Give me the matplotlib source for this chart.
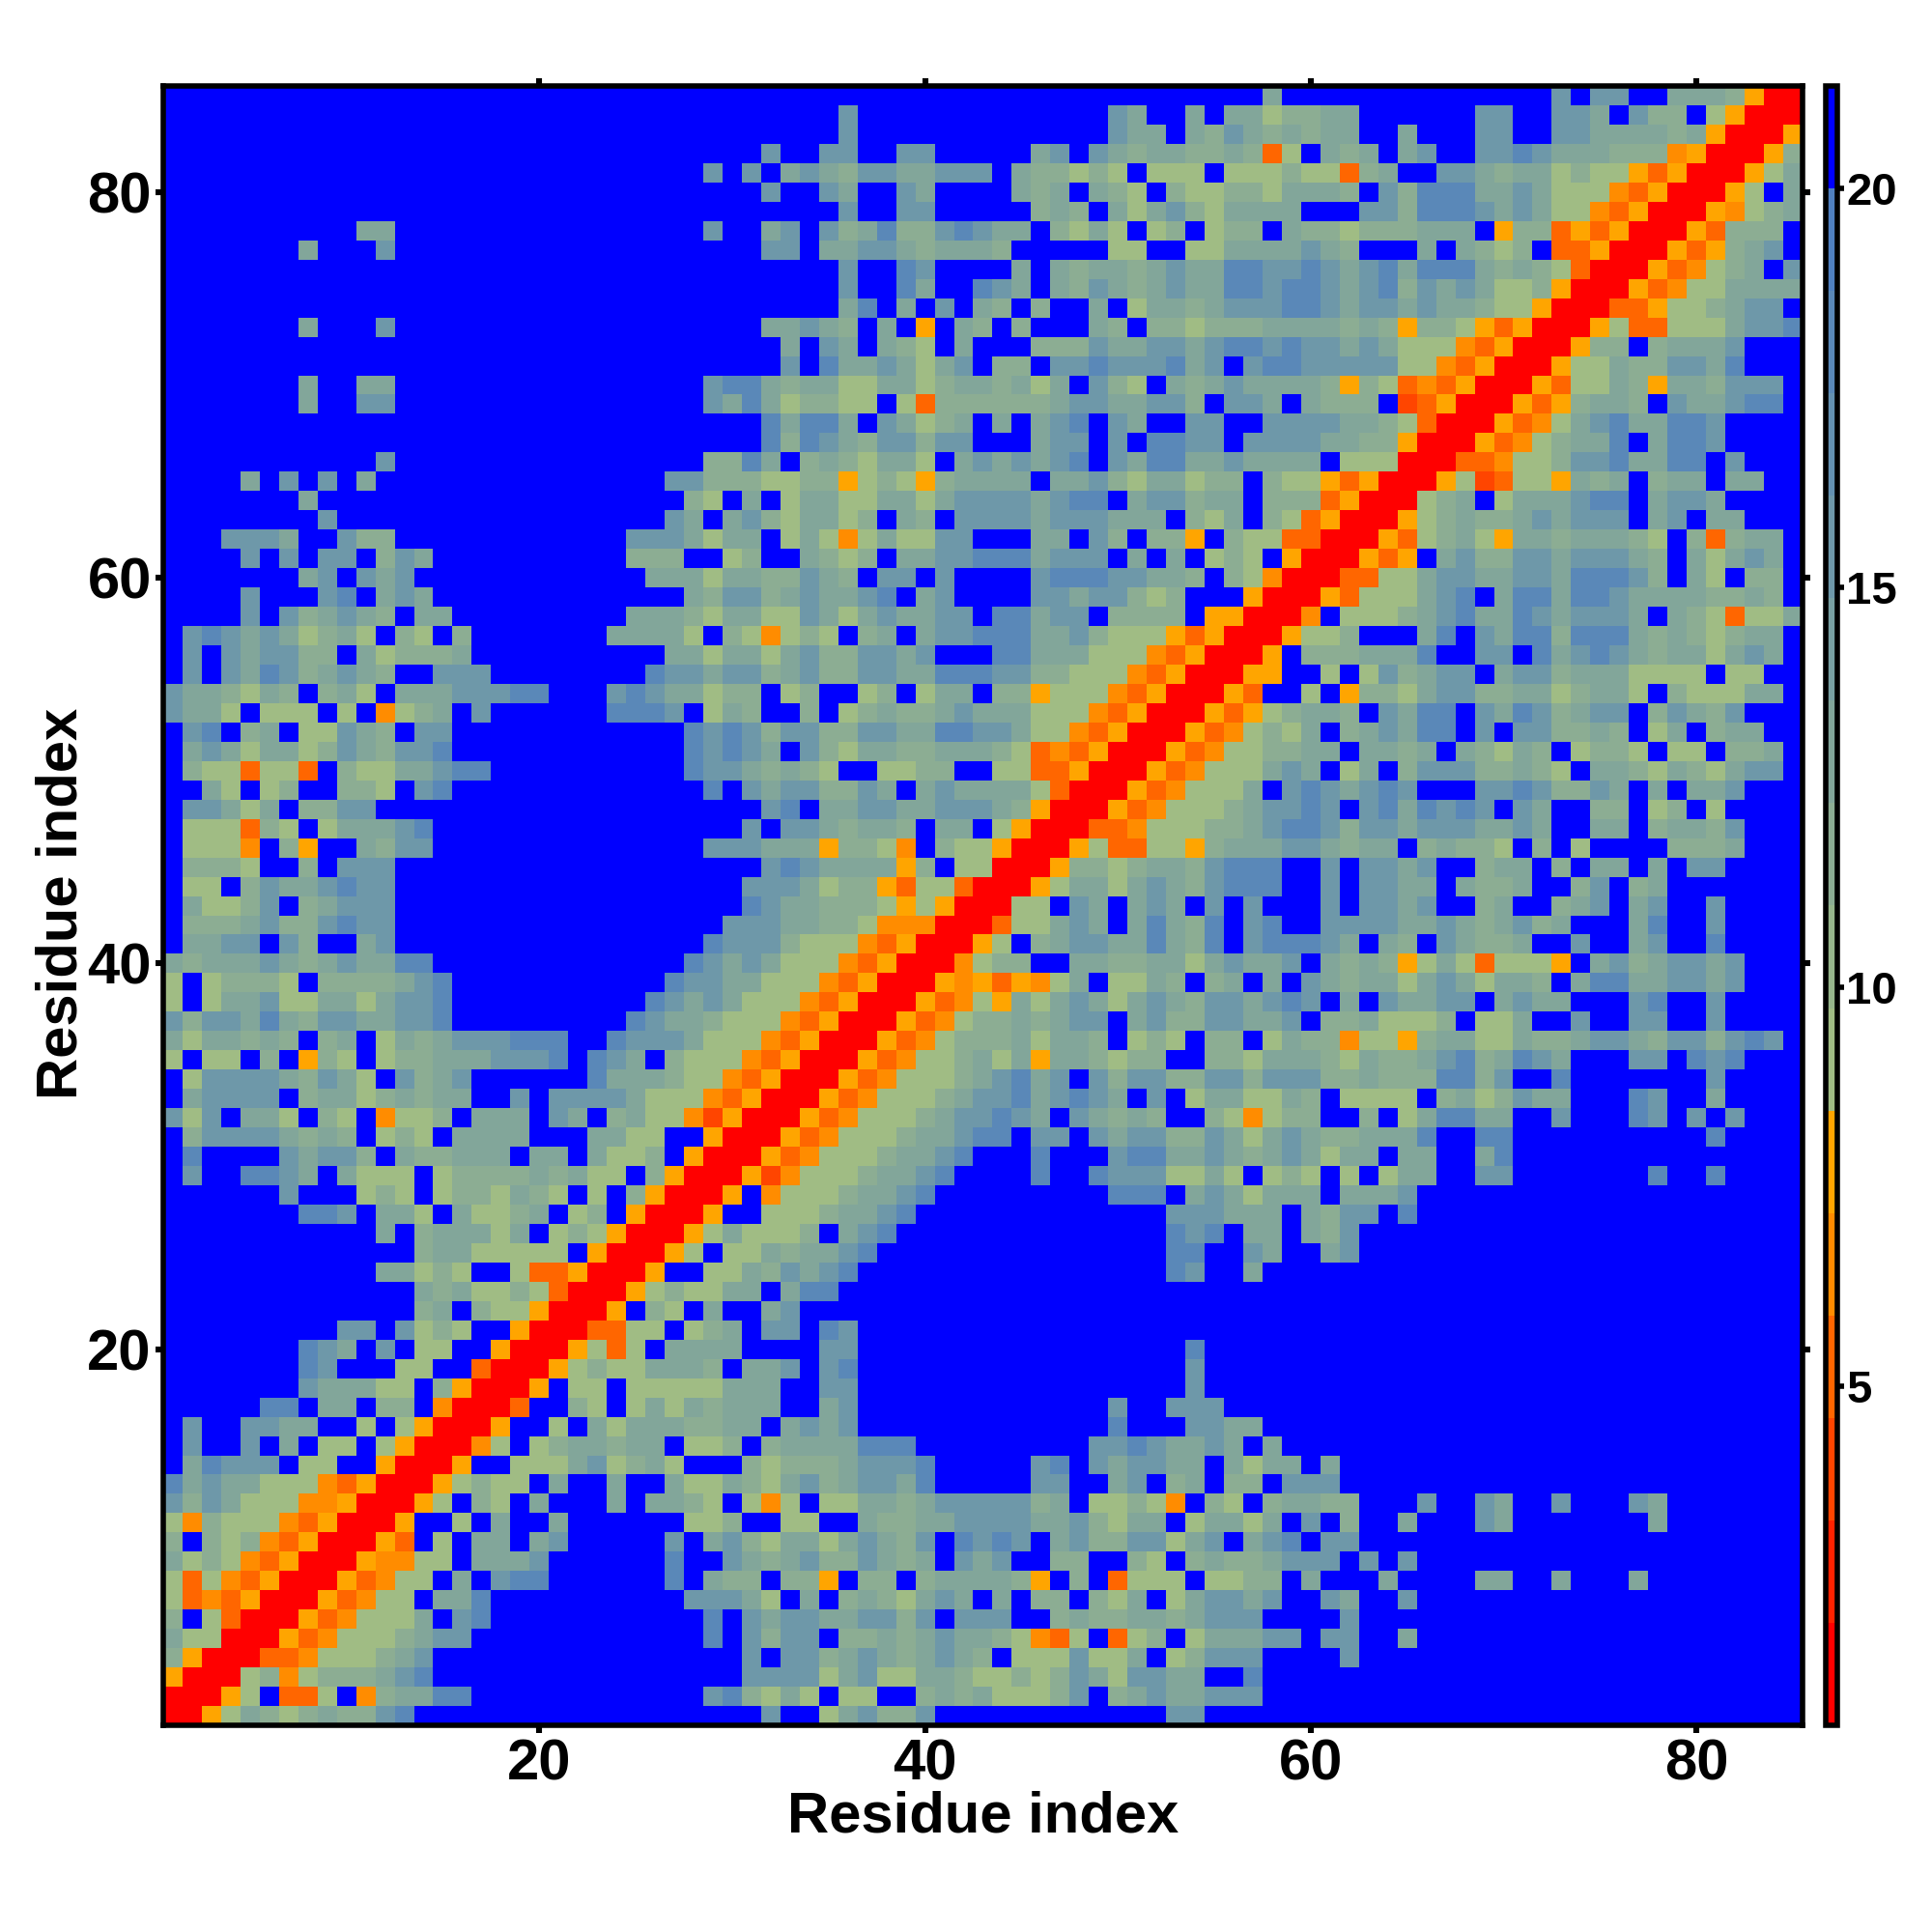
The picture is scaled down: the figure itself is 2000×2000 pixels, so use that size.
import numpy as np
import matplotlib
matplotlib.use('Agg')
import matplotlib.pyplot as plt
from matplotlib.colors import ListedColormap

plt.rcParams['font.family'] = ['Liberation Sans', 'DejaVu Sans']
plt.rcParams['font.weight'] = 'bold'

# Distance map read cell by cell, top row (residue 85) first.
# r t o m y = red to orange bins, a b c d e = sage to steel blue bins, . = blue (far)
# Split in three blocks: residues 1-28, 29-57, 58-85
left_block = [
    "", "", "", "", "", "", "",
    "..........cc",
    ".......c...d",
    "", "", "",
    ".......c...d",
    "", "",
    ".......c..cc",
    ".......c..dd",
    "", "",
    "...........d",
    "....c.d.d.c" + "." * 15 + "dd",
    ".......c" + "." * 19 + "b",
    "........d" + "." * 17 + "dc",
    "...dddc..dbb............dddc",
    "....d.d.dd.bdc..........bbb.",
    ".......cd.dcd............ccc",
    "....d...de.cdc" + "." * 13 + "c",
    "....d.dbcdcb.cc.........cccb",
    ".dedcdcabca.ba.b.......cccca",
    ".d.dcddbb.cabbbc..........cc",
    ".d.dcedbcdcb..ddd........edd",
    "dccbacb.bca.cccdddee...dedcc",
    "dcca.aaa.a.mabc.d......eeed.",
    ".de.bc.aadcb.dd" + "." * 12 + "e",
    ".cdcaccabdcbdde" + "." * 12 + "e",
    ".baaoaao.baaccdee" + "." * 10 + "e",
    "..ca.ab..bba.de",
    ".ddcac.bbdd",
    ".aaaoba.acccde",
    ".aaam.by..cbdd",
    ".bbba..b.ddd",
    ".aa.bdccdedd",
    ".caabd.bcddd",
    ".bbbcdbbdedd",
    ".ccdd.db..cd",
    "cbcccdcbcdccee" + "." * 13 + "e",
    "a.abbba.bbbbcde" + "." * 11 + "ed",
    "a.accdaaccacdde" + "." * 10 + "edc",
    "dbddcecbddccdde" + "." * 9 + "edcc",
    "caccbcb.bc.acbcdddeee..edddc",
    "a.aa.b.yba.abbcccddde.edc.ba",
    ".addddcbdca.dbcd......ecccba",
    ".cdddd.bccabcbcc..d.ddddcaaa",
    "dad.cca.ba.maab.ccc.dc.bcaam",
    ".bddddcbcb.aba.cccc...ccaa..",
    ".e....dcddb.cbbccc.cc.caab.y",
    ".d..eedc.caaa.abbbbcbcaa.byr",
    "......d...aba.abbacba.a.byrr",
    ".......eed.cca.caabc.ab.yrrr",
    "...........c.bcccac.abayrrry",
    ".............bccaaaaa.yrrrya",
    "...........ccaba..aooyrrry..",
    ".............cbcaabaorrryaba",
    ".............bc.baayrrry.ba.",
    ".........dd.daba..yrrrooaa.a",
    ".......edc.d.aa..yrrryaoa.cc",
    ".......ed...aa..orrryabaaccc",
    ".......dcccaa.byrrry.aa.aaaa",
    ".....ee.cc.bb.mrrro..ba.acac",
    ".d..ddcc..a.ayrrry..a.cacccb",
    ".d..d.c.aa.ayrrrma.abccbcc.a",
    ".ceddd.aa..yrrry..aaacdabca.",
    "ecdccaaamoyrrryabaa.c..c..ca",
    "dbdcaaammyrrrya.ba.c...c.ccb",
    "ambaaamoyrrry..a.c..c......a",
    "b.babmoyrrryo.a.cc.cd.....d.",
    "cabamoyrrrymmaa.cccd......e.",
    "aoamoyrrryomaa.c.dee......e.",
    "aomoyrrryomaa.cce..........d",
    "b.aorrryomaaac.de",
    "caarrryomaaabcdd",
    "byrrroomaaabcd",
    "yrrrabmabbbcde",
    "rrrya.ooa.mbccee",
    "rryacbabcbbde",
]

middle_block = [
    "." * 29,
    ".......d.............dc..c.cc",
    ".......d.............dcc.cbdc",
    "...d..dd..dd.....cd.dcbccbbcb",
    "d.d.cdcbddccddd.cbbaba.aaa.aa",
    "...d..dc..dc....cbc.cba.baabb",
    ".......d..dd.....bcb.cacdbacc",
    "d..cd.dbcebbdedcc.baca.ab.abb",
    "...dd.ccddcbcccb.....aa..aacc",
    ".......d..ed....c.cbccbcdccee",
    ".......d..ec..edc.cbdcbcdccee",
    ".......ce.c.d.cb.b..c.accbcdd",
    "...ccdcb.c.y.cb.b...cb.bbabbb",
    "....c.dc.cba.c...bbbdccddcdee",
    "....d.eccdcacd.bb.ddedddecd.d",
    "deecbccaaccabccbcac.dba.cbcdc",
    "dcecabbaa.aobbbbbbcddccddb.dd",
    "...eceec.dcabc.c.cde.dc..dd..",
    "...ebedcbddbdd...cdd.d.eedd.d",
    "bbec.bcbacca.cdcdcde.dceeccdc",
    "bbbaabbyabaybcccc.ccdbaccabb.",
    "a.c.accaaccacddddcdee.cddbcc.",
    ".cdbaccab.cb.ddddcdddccc.bac.",
    "acc.acamacaadd...cc.db.bby.ba",
    ".ab..cbab.ccddeeecddd.c.c.aba",
    "accbbdcb.dd.d....deeeddccb.ba",
    "bddbcdccde.cd....ddcddbab...y",
    "accaadcacdccdd.eecdd.bbbb.yyr",
    ".bamaba.bc.cddeeeccdbaaayoyrr",
    "accacdbbddcd...eecccaaamoyrrr",
    "cddbcdbbddcceeeddbbaaamoyrrry",
    "abb.ab..ab.acc.bbyaaamoyrrryo",
    "acb..b.abcbbcdcccaaamoyrrryoy",
    "dedbddbbddcceeddcaamoyrrryoma",
    "dedc.dbaccbbcccbaomoyrrryomaa",
    "ddcbcba..aabb..aaooyrrryomaaa",
    "e.dcddbbdc.cdccccaorrryomaaac",
    "...de.ccddccdddcbyrrryomaaabc",
    "..d.ddcbccb.cc.ayrrroomaaabbc",
    "dddcccybbam.baayrrryaooaaybcc",
    "...dedccccyb.aarrrybbabccbdee",
    "..dddcabbyoaaorrryaccacdcbdee",
    "..edccbbbayayrrraa.dc.cdc.d.d",
    ".dddccbbammmrrroaacdc.cecbe.d",
    "edddbaaamoyrrrya.bcddccecbe.d",
    "dcdcaaamoyrrrmabb..ccbbccacdc",
    "dccaaamoyrrrymyoymac.aacb.bc.",
    "dcaaamoyrrryomaycacdcacdcbddc",
    "baaamoyrrryomabbcbcdd.cdbbddc",
    "aaamoyrrryomabbbcaccb.aba.bb.",
    "aamoyrrryomaabcacyccbabb..bba",
    "amoyrrryomaaabcdecd.dbddbbddb",
    "moyrrryomaaabcddecdedc.d.acca",
    "tyrrryomaaabcddedc.dcbcb..bam",
    "yrrryomaaabccdee.dd.dcddbbdca",
    "rrryomaaabccde...e...deeccdcb",
    "rrytmaaabccde....e..edddaaca.",
    "ry.maaabccde.........eee.cdca",
    "y..aaabccde.............dddcc",
    "acaaab.cde..............ede.c",
    ".aacbccde...............ee..d",
    "aacbdcde................ed..c",
    "acc.cee" + "." * 22,
    "c..cd" + "." * 24,
    "bc.dd.ed" + "." * 21,
    "cc....dd" + "." * 17 + "e...",
    "b.ccd.de" + "." * 17 + "d...",
    "accc..dd" + "." * 17 + "d...",
    "bccc..cd" + "." * 13 + "d..ddd..",
    "bcc.cdcd" + "." * 13 + "e...ddcc",
    "ab.bcccceee" + "." * 9 + "ddedccdc.",
    "..babbbcddde.....de.dcddcc.ca",
    "acbacdbcddce.....dd..cd.bc.bb",
    "a.ama.aaccbcdddddbc.aabam.ba.",
    "ab..aa..cbbccddddccdbacc.acca",
    "cdbaccacdcbd.eded.cdbbddacd.c",
    ".dcbcdbbdcbc.dcd..bb..ba.bcbb",
    "cbb.bby.bb.bccccby.b.oaaa.aab",
    "ddca.c.bcbacdc.c.bb.bac.acddc",
    "e.dcddccddbd.ddd..bcbbccbcddd",
    "e.dbdd.bbcbcdccbamoa.oab.accc",
    "..d.ddbcdcbcdcb.aaadaac.abddd",
    "..ddddacdaaccbaababdcaddcc..e",
    "debaca.aa..bcbcaaabd.bcdccddd",
    "...d..acdbbd" + "." * 12 + "dd...",
]

# rows below residue 23 on the right were not read, the map is symmetric so they get mirrored
right_block = [
    "c..............d.dd..cccbyrr",
    "abbcc......dd..ddc.dbb.ayrrr",
    "bcbcc..c...dd..ddccccbcyrrry",
    "oa.cbc.cd..ddedcccbbbmyrrryb",
    "abaaobc..ddcbccabaayoyrrryac",
    "acccb.dbeeeccdcaaamoyrrrya.c",
    "cc...ddbeeedcdcaamoyrrrymabc",
    ".cbbabbbccc.ybboyoyrrryobbb.",
    "ccdcb...c.cbab.ooyrrryoybcd.",
    "ddedcdeceeecbcbaorrryomabc.d",
    "deedcdebdcdcaabyrrryomaacccc",
    "deedcddcdccbaayrrrooyaabcdd.",
    "ccccbcbybbayoyrrryaooaaacdde",
    "deddcdcaaamoyrrrybb.bcccd...",
    "eedddddaamoyrrryaacbbddce...",
    "cccbybaomoyrrryoaacbyccbddd.",
    "c.cbbb.toyrrryoybccb.dccdee.",
    "ddddccbaorrryomacdecceed....",
    "dddccbbyrrryomabcce.ceed....",
    "ccc.aaarrroomaabddeccee.d...",
    "baayoyrrryatoaaycbc.bcc.cc..",
    "bbboyrrrabc.acccdee.cddc....",
    "baoyrrryabcbbcdcddd.cd.cc...",
    "aoorrryoabcayccbcccba.bobcc.",
    ".yrrryoy.cdbbddcdddcb.cacdc.",
    "mrrrooaacddccddceeedb.ca.bb.",
    "rrryoaaacde.ceeceedccccbbcb.",
    "rrm.aaabcdeccedcdddc.cbaoaac",
    "ryaab...ce.dceebeeecbcbabcc.",
    "y.bbbccce..dd.ecdedcbccacdc.",
    "y..a.adbcdd.cddbcccaaaa.aa..",
    "..a.ybbacddbbccabcca.baaacc.",
    "abccb.dcee.dcedbcdd.bdcbd...",
    "bac.bcdcee.d.ddbbcb.ac.bcc..",
    "bbcc.ccbc.cbacb.abba.aa.bbc.",
    "cdc.ac.bdddbbcba.ccbacbacdd.",
    ".dedcded...ddedbbdc.c.ccd...",
    "dded.deceded.dc..bb.ab.a....",
    "deedbddcdddccdc..cc.bccbd...",
    "cddcbcc.bcbba.b.a....bbbc...",
    "e..d.ddcd..bcc.b.cc.c.dd....",
    "e..d.ddcc.cbbc..bd.bc.......",
    "...d.ddcd..bc..bcd.cd..d....",
    "e..ddddccdcbcdbc...ce..d....",
    "eeedc.cb.dcbbc..d..cd..e....",
    "cd.cbcbyacaoaaay.cdbcddcd...",
    "c.dcbccacdcaccb.ceeccddcd...",
    "ded.c.dccdd.cdcc...de..d....",
    "cd.bbcaaab.aac..d..dd..d....",
    "acbbmaaybccaacbbcddcbddbded.",
    "cccbacbbcdebcedc...dd.ede...",
    "dddbbcbbbeebd..e.......d....",
    "acb.aaaa.bcabdcc...ed..c....",
    "abb..b.aceecc..d...ed.d.d...",
    "cdcbbccce..ee..........e....",
    "cdcacc.cc..ce",
    "aba.a.acc..dd.......e..e....",
    "ccc.cccd",
    "c.cbdd.e",
    "c.cbd",
    "c..cd",
    "",
    "",
]

letters = ['r', 't', 'o', 'm', 'y', 'a', 'b', 'c', 'd', 'e', '.']
bins = [0, 2, 3, 4, 5, 6, 8, 9, 11, 13, 15]

bin_colors = ['#ff0000', '#ff2200', '#ff4500', '#ff6600', '#ff8c00', '#ffa500',
              '#a0bc84', '#96b58b', '#8cad93', '#82a69a', '#78a0a2', '#6e98a9',
              '#6491b1', '#5a88b8', '#5080c0', '#0000ff']

vmin = 0.76
vmax = 21.28
step = (vmax - vmin) / len(bin_colors)

n = 85
assert len(left_block) == n and len(middle_block) == n
for i, row in enumerate(middle_block):
    assert len(row) == 29, (i + 1, len(row))
for i, row in enumerate(left_block):
    assert len(row) <= 28, (i + 1, len(row))

grid = [list(l.ljust(28, '.') + m + '?' * 28) for l, m in zip(left_block, middle_block)]
for i, row in enumerate(right_block):
    assert len(row) <= 28, (i + 1, len(row))
    grid[i][57:] = list(row.ljust(28, '.'))
for i in range(len(right_block), n):
    for j in range(57, n):
        grid[i][j] = grid[n - 1 - j][n - 1 - i]

lookup = dict(zip(letters, bins))
levels = np.array([[lookup[ch] for ch in row] for row in grid], dtype=float)
dist = vmin + (levels + 0.5) * step
dist = np.flipud(dist)

fig = plt.figure(figsize=(10, 10), dpi=200)
ax = fig.add_axes([169 / 2000, 214 / 2000, 1697 / 2000, 1697 / 2000])
im = ax.imshow(dist, origin='lower', extent=(0.5, 85.5, 0.5, 85.5), aspect='auto',
               cmap=ListedColormap(bin_colors), vmin=vmin, vmax=vmax, interpolation='nearest')

ax.set_xticks([20, 40, 60, 80])
ax.set_yticks([20, 40, 60, 80])
ax.tick_params(direction='out', length=2.9, width=2.2, top=True, right=True, labelsize=21.5)
ax.tick_params(axis='x', pad=1.8)
ax.tick_params(axis='y', pad=1.5)
for s in ax.spines.values():
    s.set_linewidth(2)
ax.set_xlabel('Residue index', fontsize=21.5, fontweight='bold')
ax.set_ylabel('Residue index', fontsize=21.5, fontweight='bold')
ax.xaxis.set_label_coords(0.5, -0.0395)
ax.yaxis.set_label_coords(-0.0455, 0.501)

# colour key
cax = fig.add_axes([1889.5 / 2000, 214 / 2000, 12 / 2000, 1697 / 2000])
cbar = fig.colorbar(im, cax=cax, ticks=[5, 10, 15, 20])
cbar.ax.tick_params(length=2.5, width=2.0, labelsize=17, pad=1)
cbar.outline.set_linewidth(2)

fig.savefig('out.png', dpi=200)
